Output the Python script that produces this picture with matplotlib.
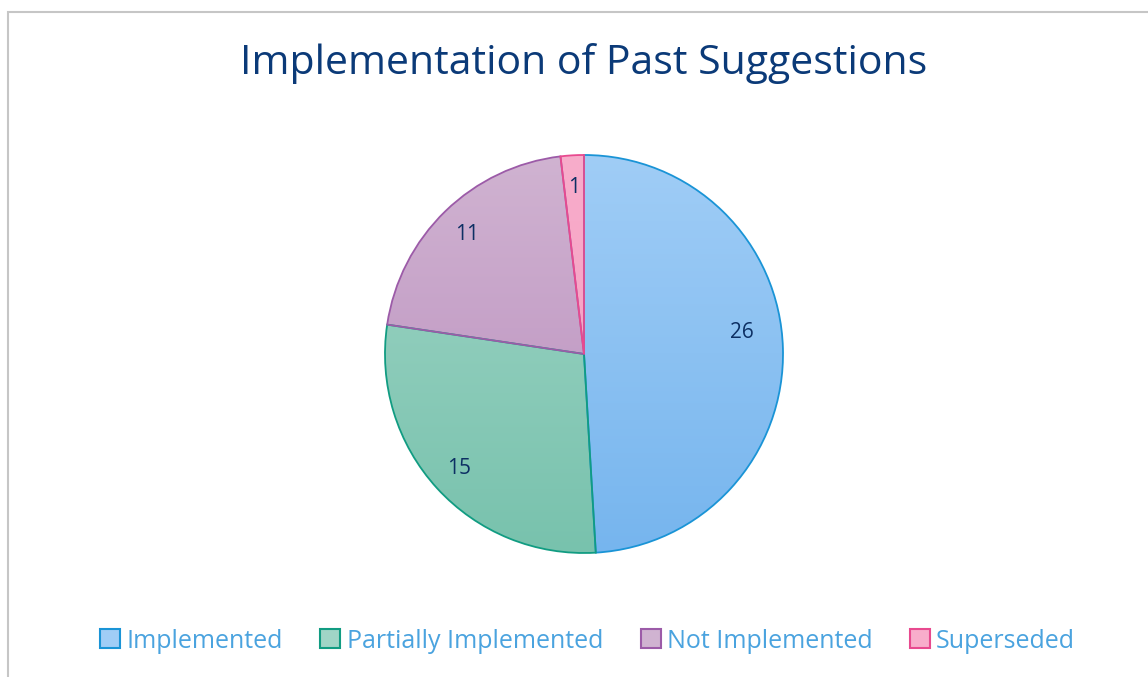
import numpy as np
import matplotlib
matplotlib.use("Agg")
import matplotlib.pyplot as plt
from matplotlib.patches import Rectangle
from matplotlib.colors import LinearSegmentedColormap

categories = ["Implemented", "Partially Implemented", "Not Implemented", "Superseded"]
values = [26, 15, 11, 1]

top_colors = ["#a0cdf6", "#a0d5c6", "#d0b3d1", "#f8adcb"]
bottom_colors = ["#76b5ee", "#78c2ad", "#b98cbd", "#f49bbf"]
edge_colors = ["#1a94d6", "#119c82", "#9c5ba8", "#e84a8f"]
label_radius = [0.80, 0.85, 0.84, 0.84]
label_angle_shift = [6, 0, 0, 0]

W, H = 1148, 677
fig = plt.figure(figsize=(W / 100, H / 100), dpi=100)
fig.patch.set_facecolor("white")
font = "Open Sans"

# chart border (partially visible)
fig.add_artist(Rectangle((8 / W, -0.1), 1.2, (H - 12) / H + 0.1, transform=fig.transFigure,
                         fill=False, edgecolor="#c6c6c6", linewidth=1.5))

# pie axes: center (584,354), radius 200 px
R = 200
cx, cy = 584, 354
ax = fig.add_axes([(cx - R) / W, (H - cy - R) / H, 2 * R / W, 2 * R / H])
ax.axis("off")

wedges, _ = ax.pie(values, startangle=90, counterclock=False, radius=1,
                   wedgeprops=dict(linewidth=1.3), normalize=True)
grad = np.linspace(1, 0, 256).reshape(-1, 1)
for w, tc, bc, ec in zip(wedges, top_colors, bottom_colors, edge_colors):
    w.set_facecolor("none")
    w.set_edgecolor(ec)
    w.set_zorder(3)
    cmap = LinearSegmentedColormap.from_list("g", [bc, tc])
    im = ax.imshow(grad, cmap=cmap, extent=(-1, 1, -1, 1), origin="upper",
                   aspect="auto", zorder=2, interpolation="bilinear")
    im.set_clip_path(w)

for w, v, r, s in zip(wedges, values, label_radius, label_angle_shift):
    ang = np.deg2rad((w.theta1 + w.theta2) / 2 + s)
    ax.text(r * np.cos(ang), r * np.sin(ang), str(v), ha="center", va="center",
            fontsize=15, color="#0d2f63", family=font, zorder=5)

ax.set_xlim(-1.005, 1.005)
ax.set_ylim(-1.005, 1.005)
ax.set_aspect("equal")

fig.text(0.508, 1 - 63 / H, "Implementation of Past Suggestions", ha="center", va="center",
         fontsize=29.5, color="#0b3a78", family=font)

handles = [Rectangle((0, 0), 1, 1, facecolor=tc, edgecolor=ec, linewidth=1.5)
           for tc, ec in zip(top_colors, edge_colors)]
leg = fig.legend(handles, categories, loc="center", bbox_to_anchor=(0.512, 1 - 641 / H),
                 ncol=4, frameon=False, handlelength=0.8, handleheight=0.8,
                 handletextpad=0.25, columnspacing=1.5,
                 prop=dict(family=font, size=18))
for t in leg.get_texts():
    t.set_color("#4aa3df")

fig.savefig("out.png", dpi=100)
